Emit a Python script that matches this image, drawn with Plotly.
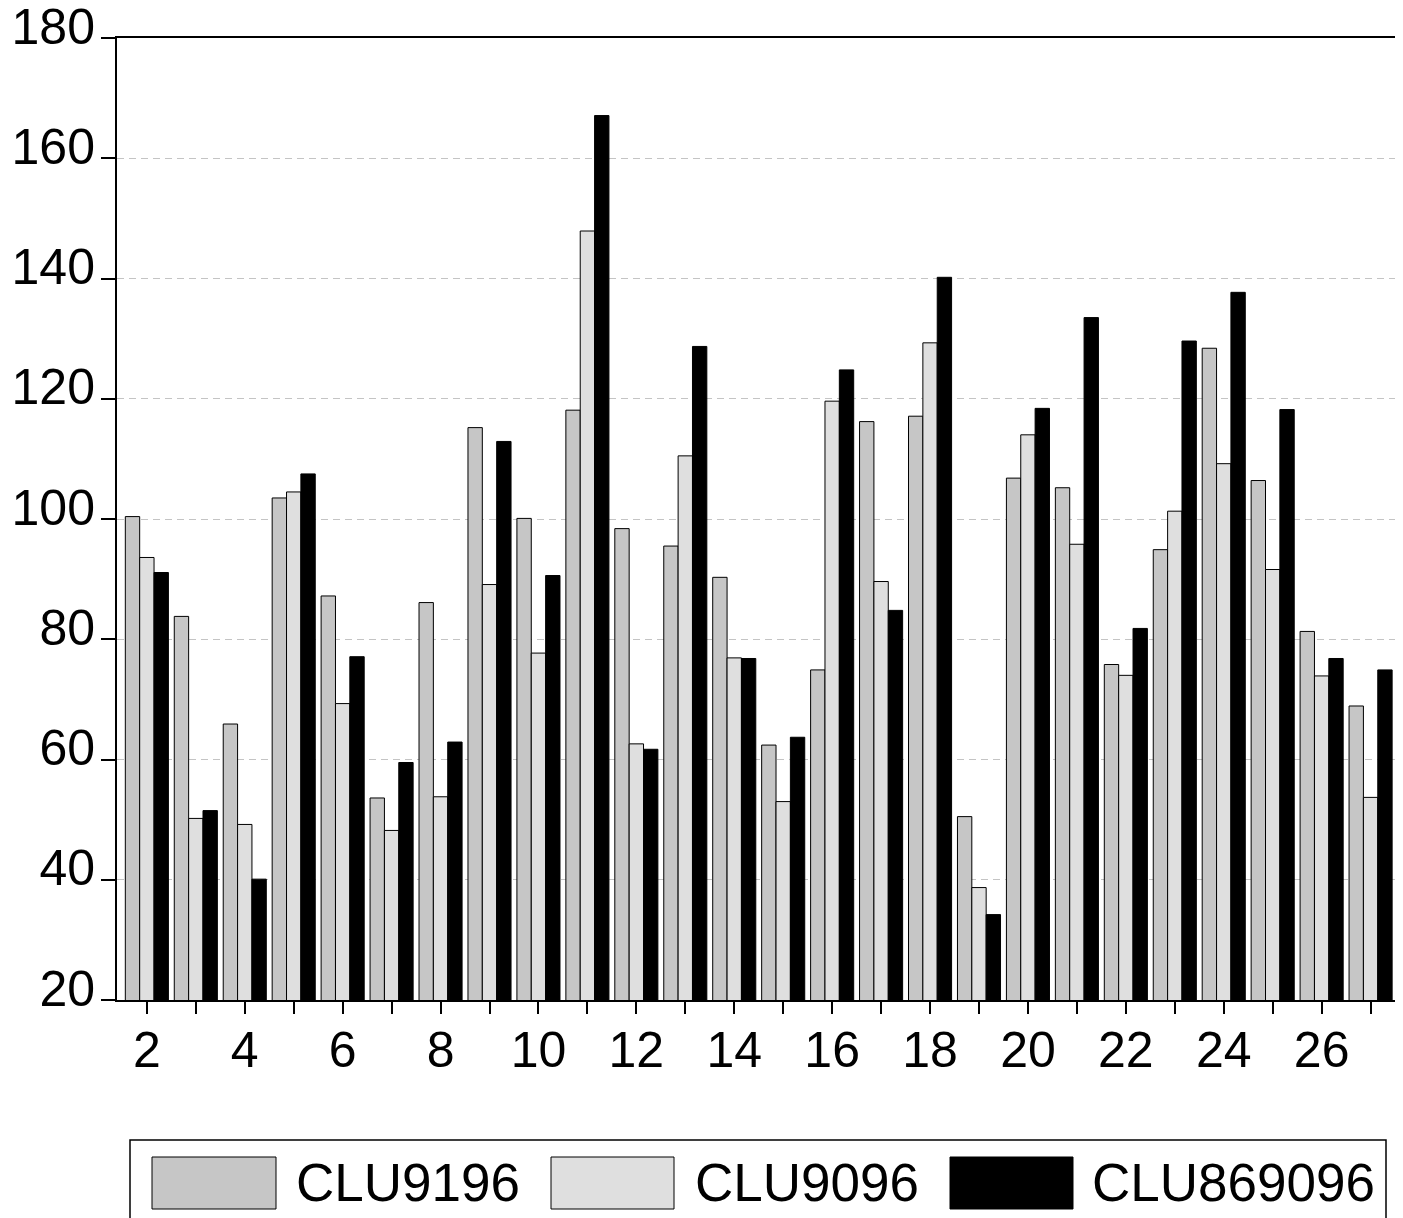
import plotly.graph_objects as go

# ---- data ----
categories = list(range(2, 28))
clu9196 = [100.4, 83.8, 65.9, 103.5, 87.2, 53.6, 86.1, 115.2, 100.1, 118.1, 98.4, 95.5, 90.3,
           62.4, 74.9, 116.2, 117.1, 50.5, 106.8, 105.2, 75.8, 94.9, 128.4, 106.4, 81.3, 68.9]
clu9096 = [93.6, 50.2, 49.2, 104.5, 69.3, 48.2, 53.8, 89.1, 77.7, 147.9, 62.6, 110.5, 76.9,
           53.0, 119.6, 89.6, 129.3, 38.7, 114.0, 95.8, 74.0, 101.3, 109.2, 91.6, 73.9, 53.7]
clu869096 = [91.1, 51.5, 40.1, 107.5, 77.1, 59.5, 62.9, 112.9, 90.6, 167.1, 61.7, 128.7, 76.8,
             63.7, 124.8, 84.8, 140.2, 34.2, 118.4, 133.5, 81.8, 129.6, 137.7, 118.2, 76.8, 74.9]
series_names = ["CLU9196", "CLU9096", "CLU869096"]
series_values = [clu9196, clu9096, clu869096]
series_colors = ["#c6c6c6", "#dfdfdf", "#000000"]
x_tick_text = [str(c) if c % 2 == 0 else "" for c in categories]
y_ticks = [20, 40, 60, 80, 100, 120, 140, 160, 180]

FONT = "Liberation Sans, Arial, sans-serif"
OFF = 8  # page body margin
W, H = 1403 - OFF, 1218 - OFF
# plot area in screen pixels: left 117, right 1398, top 38, bottom 1000
PL, PR, PT, PB = 117, 1398, 38, 1000
ML, MR, MT = PL - OFF, (OFF + W) - PR, PT - OFF
MB = (OFF + H) - PB
PW, PH = PR - PL, PB - PT

fig = go.Figure()
for name, vals, col in zip(series_names, series_values, series_colors):
    fig.add_trace(go.Bar(x=categories, y=vals, name=name,
                         marker=dict(color=col, line=dict(color="#000000", width=1)),
                         showlegend=False))

fig.update_layout(
    width=W, height=H,
    margin=dict(l=ML, r=MR, t=MT, b=MB, pad=0, autoexpand=False),
    barmode="group", bargap=0.12, bargroupgap=0,
    plot_bgcolor="white", paper_bgcolor="white",
    font=dict(family=FONT, size=50, color="black"),
)
fig.update_xaxes(
    range=[1.39, 27.56], tickmode="array", tickvals=categories, ticktext=x_tick_text,
    ticks="outside", ticklen=12, tickwidth=1.5, tickcolor="black",
    showline=True, linewidth=2, linecolor="black", mirror=True,
    showgrid=False, zeroline=False, tickfont=dict(size=50, family=FONT),
    ticklabelstandoff=-7, automargin=False,
)
fig.update_yaxes(
    range=[20, 180], tickmode="array", tickvals=y_ticks,
    ticks="outside", ticklen=14, tickwidth=1.5, tickcolor="black",
    showline=True, linewidth=2, linecolor="black", mirror=True,
    showgrid=True, gridcolor="#c4c4c4", gridwidth=1, griddash="7px,5px",
    zeroline=False, tickfont=dict(size=50, family=FONT),
    ticklabelshift=-12, ticklabelstandoff=-4, ticklabeloverflow="allow",
    automargin=False,
)

# ---- custom legend (layout decoration), positions given in screen pixels ----
def px(xp):
    return (xp - PL) / PW

def py(yp):
    return (PB - yp) / PH

fig.add_shape(type="rect", xref="paper", yref="paper",
              x0=px(130), x1=px(1386), y0=py(1140), y1=py(1240),
              line=dict(color="black", width=1.5), fillcolor="white", layer="above")
legend_swatches = [(152, 276), (551, 674), (950, 1073)]
legend_text_x = [294, 693, 1090]
for (sx0, sx1), tx, name, col in zip(legend_swatches, legend_text_x, series_names, series_colors):
    fig.add_shape(type="rect", xref="paper", yref="paper",
                  x0=px(sx0), x1=px(sx1), y0=py(1157), y1=py(1209),
                  line=dict(color="black", width=1), fillcolor=col, layer="above")
    fig.add_annotation(xref="paper", yref="paper", x=px(tx), y=py(1182),
                       xanchor="left", yanchor="middle", showarrow=False,
                       text=name, font=dict(size=53, family=FONT, color="black"))

fig.write_html("out.html")
